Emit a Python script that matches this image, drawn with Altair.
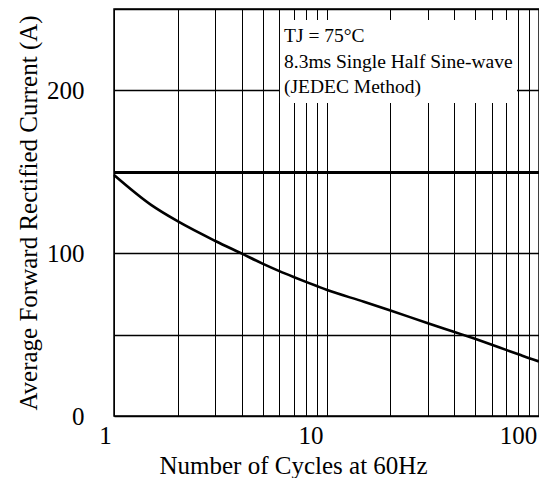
import altair as alt
import pandas as pd

# ---- data ----
cycles = [1, 1.5, 2, 3, 4, 5, 6, 7, 8, 9, 10, 15, 20, 30, 40, 50, 60, 70, 80, 90, 100]
current = [148, 129.5, 119.5, 107.5, 99.7, 93.6, 89, 85.4, 82.4, 79.8, 77.5, 70.2, 64.8,
           57, 51.6, 47.4, 43.8, 40.6, 37.9, 35.5, 33.5]

x_grid = [1, 2, 3, 4, 5, 6, 7, 8, 9, 10, 20, 30, 40, 50, 60, 70, 80, 90, 100]
y_grid = [0, 50, 100, 150, 200, 250]

note_lines = ["TJ = 75°C", "8.3ms Single Half Sine-wave", "(JEDEC Method)"]
note_y = [229.7, 213.8, 198.4]
note_x = 6.31
box_x = [6.04, 78.8]
box_y = [192.3, 243.2]

FONT = "Liberation Serif"

df = pd.DataFrame({"cycles": cycles, "current": current})
notes = pd.DataFrame({"text": note_lines, "y": note_y, "x": [note_x] * len(note_lines)})
box = pd.DataFrame({"x": [box_x[0]], "x2": [box_x[1]], "y": [box_y[0]], "y2": [box_y[1]]})

xscale = alt.Scale(type="log", domain=[1, 100], nice=False)
yscale = alt.Scale(domain=[0, 250], nice=False)

x_axis = alt.Axis(
    values=x_grid,
    labelExpr="(datum.value == 1 || datum.value == 10 || datum.value == 100) ? format(datum.value, 'd') : ''",
    grid=True, gridColor="black", gridWidth=1, gridOpacity=1,
    ticks=False, domain=False,
    labelFont=FONT, labelFontSize=25, labelColor="black", labelPadding=7,
    labelFlush=False, labelOverlap=False, labelBound=False,
    labelOffset={"condition": [{"test": "datum.value == 1", "value": -9},
                               {"test": "datum.value == 10", "value": -16}],
                 "value": -21},
    title="Number of Cycles at 60Hz",
    titleFont=FONT, titleFontSize=25, titleFontWeight="normal", titleColor="black",
    titleX=179, titleY=57, titleBaseline="alphabetic", titleAlign="center",
)

y_axis = alt.Axis(
    values=y_grid,
    labelExpr="(datum.value == 0 || datum.value == 100 || datum.value == 200) ? format(datum.value, 'd') : ''",
    grid=True, gridColor="black", gridOpacity=1,
    gridWidth={"condition": {"test": "datum.value == 150", "value": 3}, "value": 1.4},
    ticks=False, domain=False,
    labelFont=FONT, labelFontSize=25, labelColor="black", labelPadding=30,
    labelOverlap=False, labelBound=False, labelFlush=False,
    title="Average Forward Rectified Current (A)",
    titleFont=FONT, titleFontSize=25, titleFontWeight="normal", titleColor="black",
    titleX=-78, titleY=203.5, titleAngle=270, titleBaseline="alphabetic", titleAlign="center",
)

curve = alt.Chart(df).mark_line(color="black", strokeWidth=2.6, interpolate="monotone").encode(
    x=alt.X("cycles:Q", scale=xscale, axis=x_axis),
    y=alt.Y("current:Q", scale=yscale, axis=y_axis),
)

rect = alt.Chart(box).mark_rect(color="white").encode(
    x=alt.X("x:Q", scale=xscale), x2="x2:Q",
    y=alt.Y("y:Q", scale=yscale), y2="y2:Q",
)

text = alt.Chart(notes).mark_text(
    align="left", baseline="alphabetic", font=FONT, fontSize=19.5, color="black"
).encode(
    x=alt.X("x:Q", scale=xscale),
    y=alt.Y("y:Q", scale=yscale),
    text="text:N",
)

chart = alt.layer(curve, rect, text).properties(
    width=425, height=407,
    autosize=alt.AutoSizeParams(type="none"),
    padding={"left": 106, "top": 1, "right": 0, "bottom": 62},
    background="white",
).configure_view(stroke="black", strokeWidth=1.5)

chart.save("out.html", embed_options={"renderer": "svg", "actions": False})
